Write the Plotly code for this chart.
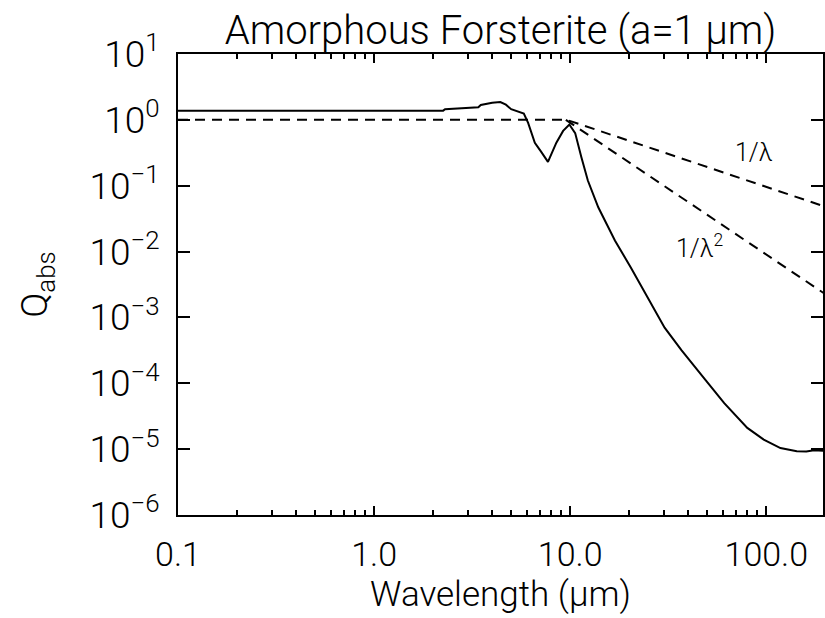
import plotly.graph_objects as go

# Solid curve: Q_abs of amorphous forsterite, a = 1 micron
wavelength = [0.1, 0.5, 1.0, 2.0, 2.25, 2.3, 3.0, 3.4, 3.5, 4.0, 4.4, 4.7, 5.0, 5.5, 5.8,
              6.1, 6.6, 7.1, 7.7, 8.5, 9.2, 9.9, 10.6, 11.4, 12.3, 13.9, 16.9, 20.4,
              30.3, 36.9, 44.7, 48.9, 61.0, 80.0, 97.0, 118.0, 143.0, 160.0, 175.0, 190.0, 200.0]
q_abs = [1.37, 1.37, 1.37, 1.38, 1.38, 1.45, 1.5, 1.55, 1.68, 1.82, 1.86, 1.7, 1.45, 1.3, 1.25,
         0.9, 0.45, 0.33, 0.23, 0.45, 0.68, 0.85, 0.63, 0.27, 0.12, 0.047, 0.0147, 0.0057,
         7.0e-4, 3.2e-4, 1.55e-4, 1.13e-4, 5.0e-5, 2.1e-5, 1.4e-5, 1.04e-5, 9.3e-6, 9.2e-6,
         9.6e-6, 9.4e-6, 9.4e-6]

# Dashed reference lines (1/lambda and 1/lambda^2), endpoints
inv_lam_x = [0.1, 9.6, 200.0]
inv_lam_y = [1.0, 1.0, 0.048]
inv_lam2_x = [9.5, 200.0]
inv_lam2_y = [1.0, 0.00225]

x_tickvals = [0.1, 1, 10, 100]
x_ticktext = ["0.1", "1.0", "10.0", "100.0"]
x_minor = [0.2, 0.3, 0.4, 0.5, 0.6, 0.7, 0.8, 0.9,
           2, 3, 4, 5, 6, 7, 8, 9,
           20, 30, 40, 50, 60, 70, 80, 90, 200]
y_tickvals = [1e1, 1e0, 1e-1, 1e-2, 1e-3, 1e-4, 1e-5, 1e-6]
y_ticktext = ["10<sup>1</sup>", "10<sup>0</sup>", "10<sup>−1</sup>", "10<sup>−2</sup>",
              "10<sup>−3</sup>", "10<sup>−4</sup>", "10<sup>−5</sup>", "10<sup>−6</sup>"]

FONT = "Roboto"
W = 300

fig = go.Figure()
fig.add_trace(go.Scatter(x=inv_lam_x, y=inv_lam_y, mode="lines",
                         line=dict(color="black", width=2, dash="10px,7px"),
                         showlegend=False))
fig.add_trace(go.Scatter(x=inv_lam2_x, y=inv_lam2_y, mode="lines",
                         line=dict(color="black", width=2, dash="10px,7px"),
                         showlegend=False))
fig.add_trace(go.Scatter(x=wavelength, y=q_abs, mode="lines",
                         line=dict(color="black", width=2),
                         showlegend=False))

fig.add_annotation(x=1.938, y=-0.502, xref="x", yref="y", text="1/λ", showarrow=False,
                   font=dict(family=FONT, size=25, color="black", weight=W))
fig.add_annotation(x=1.659, y=-1.929, xref="x", yref="y", text="1/λ<sup>2</sup>",
                   showarrow=False, font=dict(family=FONT, size=25, color="black", weight=W))

fig.update_layout(
    width=825, height=618,
    margin=dict(l=178, r=0, t=54, b=103),
    paper_bgcolor="white", plot_bgcolor="white",
    font=dict(family=FONT, size=36, color="black", weight=W),
    title=dict(text="Amorphous Forsterite (a=1 μm)", x=0.5, xref="paper",
               y=1 - 30 / 618, yref="container", yanchor="middle",
               font=dict(family=FONT, size=40, color="black", weight=W)),
    xaxis=dict(type="log", range=[-1, 2.289], tickmode="array",
               tickvals=x_tickvals, ticktext=x_ticktext,
               ticks="inside", ticklen=9, tickwidth=2, tickcolor="black",
               minor=dict(tickmode="array", tickvals=x_minor, ticks="inside",
                          ticklen=5, tickwidth=2, tickcolor="black", showgrid=False),
               showline=True, linecolor="black", linewidth=2, mirror="allticks",
               showgrid=False, zeroline=False,
               tickfont=dict(family=FONT, size=34, weight=W),
               ticklabelstandoff=8,
               title=dict(text="Wavelength (μm)", standoff=6,
                          font=dict(family=FONT, size=35, weight=W))),
    yaxis=dict(type="log", range=[-6, 1], tickmode="array",
               tickvals=y_tickvals, ticktext=y_ticktext,
               ticks="inside", ticklen=12, tickwidth=2, tickcolor="black",
               showline=True, linecolor="black", linewidth=2, mirror="allticks",
               showgrid=False, zeroline=False,
               tickfont=dict(family=FONT, size=37, weight=W),
               ticklabelstandoff=9,
               title=dict(text="Q<sub>abs</sub>", standoff=30,
                          font=dict(family=FONT, size=37, weight=W))),
)

fig.write_html("out.html")
